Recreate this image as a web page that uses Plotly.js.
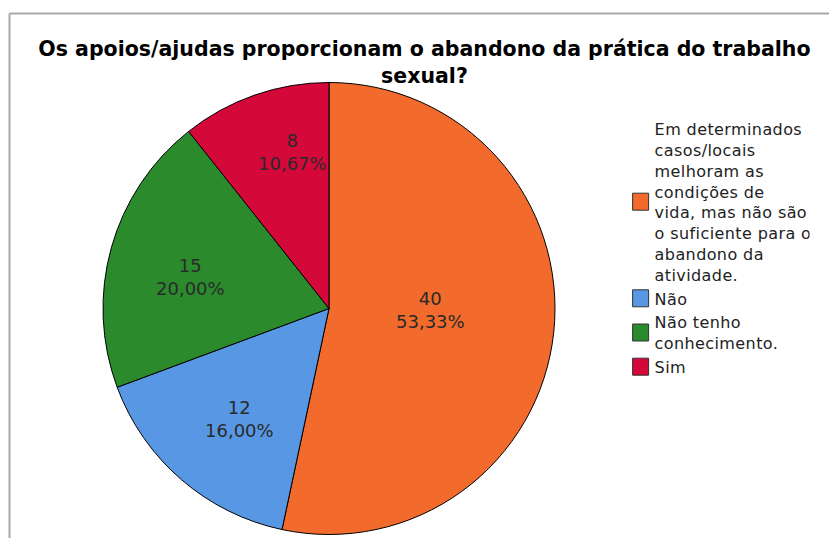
<!DOCTYPE html>
<html>
<head>
<meta charset="utf-8">
<script src="https://cdn.plot.ly/plotly-3.0.1.min.js"></script>
<style>
html,body{margin:0;padding:0;background:#fff;}
#chart{width:829px;height:538px;}
#chart .legendtext{letter-spacing:0.4px;}
</style>
</head>
<body>
<div id="chart"></div>
<script>
// ---- data ----
const categories = [
  "Em determinados<br>casos/locais<br>melhoram as<br>condições de<br>vida, mas não são<br>o suficiente para o<br>abandono da<br>atividade.",
  "Não",
  "Não tenho<br>conhecimento.",
  "Sim"
];
const counts = [40, 12, 15, 8];
const percentLabels = ["53,33%", "16,00%", "20,00%", "10,67%"];
const colors = ["#F26A2C", "#5897E4", "#2A8A2C", "#D5083A"];
const titleText = "Os apoios/ajudas proporcionam o abandono da prática do trabalho<br>sexual?";

// ---- layout constants ----
const W = 829, H = 538;
const pieDomX = [103 / W, 555 / W];
const pieDomY = [1 - 535 / H, 1 - 82 / H];
const labelRadiusFrac = [0.45, 0.63, 0.63, 0.71];
const labelAngleShiftDeg = [-5, -2, -3, 6];

// compute label annotations from data
const total = counts.reduce((a, b) => a + b, 0);
const cxPx = (pieDomX[0] + pieDomX[1]) / 2 * W;
const cyPx = (1 - (pieDomY[0] + pieDomY[1]) / 2) * H;
const rPx = Math.min((pieDomX[1] - pieDomX[0]) * W, (pieDomY[1] - pieDomY[0]) * H) / 2;
let cum = 0;
const annotations = counts.map((v, i) => {
  const mid = (cum + v / 2) / total * 2 * Math.PI + labelAngleShiftDeg[i] * Math.PI / 180;
  cum += v;
  const px = cxPx + Math.sin(mid) * rPx * labelRadiusFrac[i];
  const py = cyPx - Math.cos(mid) * rPx * labelRadiusFrac[i];
  return {
    x: px / W, y: 1 - py / H, xref: "paper", yref: "paper",
    text: v + "<br>" + percentLabels[i], showarrow: false,
    font: {family: "DejaVu Sans, Verdana, sans-serif", size: 18, color: "#2a2a2a"},
    align: "center", xanchor: "center", yanchor: "middle"
  };
});

const trace = {
  type: "pie",
  labels: categories,
  values: counts,
  sort: false,
  direction: "clockwise",
  rotation: 0,
  textinfo: "none",
  hoverinfo: "label+value+percent",
  marker: {colors: colors, line: {color: "#000", width: 1}},
  domain: {x: pieDomX, y: pieDomY}
};

const layout = {
  width: W, height: H,
  margin: {l: 0, r: 0, t: 0, b: 0},
  paper_bgcolor: "#fff",
  showlegend: true,
  title: {
    text: titleText,
    x: 0.512, xanchor: "center",
    xref: "paper", yref: "paper",
    y: 1 - 56 / H, yanchor: "middle",
    font: {family: "DejaVu Sans, sans-serif", size: 20.5, color: "#000", weight: "bold"}
  },
  legend: {
    x: 0.7414, xanchor: "left",
    y: 1 - 112 / H, yanchor: "top",
    font: {family: "DejaVu Sans, Verdana, sans-serif", size: 16, color: "#222"},
    bgcolor: "rgba(0,0,0,0)",
    tracegroupgap: 0,
    itemwidth: 30
  },
  annotations: annotations,
  shapes: [
    {type: "line", xref: "paper", yref: "paper", x0: 9.5 / W, x1: 1, y0: 1 - 13.5 / H, y1: 1 - 13.5 / H, line: {color: "#A8A8A8", width: 2}},
    {type: "line", xref: "paper", yref: "paper", x0: 9.5 / W, x1: 9.5 / W, y0: 1 - 13.5 / H, y1: 0, line: {color: "#A8A8A8", width: 2}}
  ]
};

Plotly.newPlot("chart", [trace], layout, {displayModeBar: false, staticPlot: true}).then(function (gd) {
  // enlarge the legend colour boxes to match the reference swatches
  gd.querySelectorAll(".legendpoints path.legendpie").forEach(function (p) {
    p.setAttribute("d", "M14,8.5H-2V-8.5H14Z");
    p.style.strokeWidth = "1px";
    p.style.stroke = "#333";
  });
});
</script>
</body>
</html>
